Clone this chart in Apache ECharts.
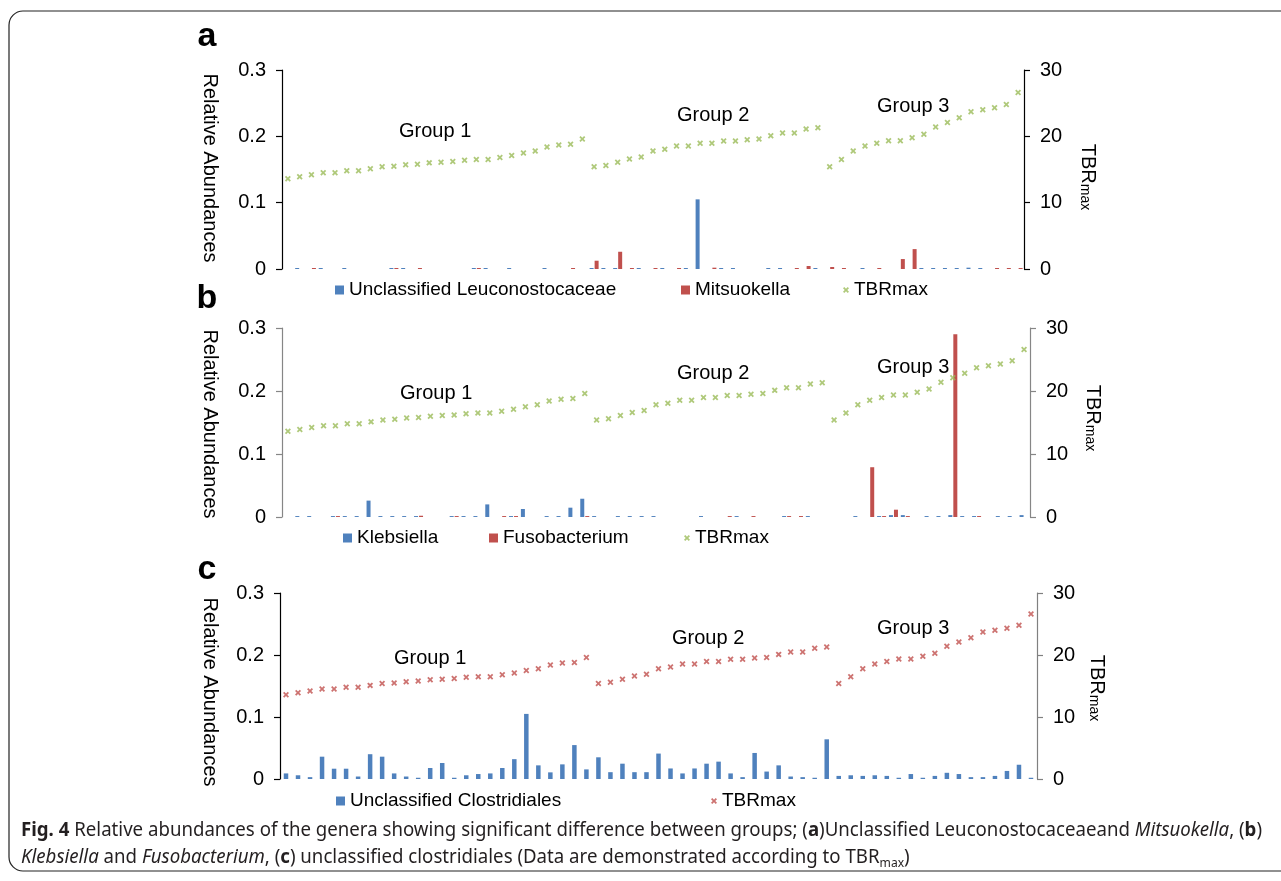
<!DOCTYPE html>
<html><head><meta charset="utf-8">
<script src="https://cdn.jsdelivr.net/npm/echarts@6/dist/echarts.min.js"></script>
<style>html,body{margin:0;padding:0;background:#fff;overflow:hidden}#chart{width:1281px;height:881px}</style>
</head><body><div id="chart"></div>
<script>
// ---------------- data ----------------
const groupNames = ['Group 1', 'Group 2', 'Group 3'];
const groupSizes = [26, 20, 17];

const tbrMax = [
  13.6, 13.9, 14.2, 14.5, 14.5, 14.8, 14.8, 15.1, 15.4, 15.5, 15.7, 15.8, 16.0, 16.1, 16.2, 16.4, 16.5, 16.5, 16.8, 17.1, 17.5, 17.8, 18.4, 18.7, 18.8, 19.6,
  15.4, 15.6, 16.1, 16.6, 16.9, 17.8, 18.05, 18.55, 18.55, 18.96, 18.96, 19.3, 19.3, 19.5, 19.6, 20.1, 20.5, 20.5, 21.1, 21.3,
  15.4, 16.5, 17.8, 18.55, 18.96, 19.35, 19.35, 19.8, 20.3, 21.4, 22.1, 22.8, 23.7, 24.0, 24.3, 24.8, 26.6
];

const leuconostocaceae = [
  0, 0.0015, 0, 0.0015, 0, 0.0015, 0, 0, 0, 0.0015,
  0.0015, 0, 0, 0, 0, 0, 0.0015, 0.0015, 0, 0.0015,
  0, 0, 0.0015, 0, 0, 0, 0.0015, 0.0015, 0.0015, 0,
  0.0015, 0, 0.0015, 0, 0.0015, 0.105, 0, 0.0015, 0.0015, 0,
  0, 0.0015, 0.0015, 0, 0, 0.0015, 0, 0, 0, 0.0015,
  0, 0, 0, 0, 0.0015, 0.0015, 0.0015, 0.0015, 0.002, 0.0015,
  0, 0, 0
];
const mitsuokella = [
  0, 0, 0.0015, 0, 0, 0, 0, 0, 0, 0.0015,
  0, 0.0015, 0, 0, 0, 0, 0.0015, 0, 0, 0,
  0, 0, 0, 0, 0.0015, 0, 0.0125, 0, 0.026, 0.0015,
  0, 0.0015, 0, 0.0015, 0, 0, 0.002, 0, 0, 0,
  0, 0, 0, 0.0015, 0.0045, 0, 0.003, 0.0015, 0, 0,
  0.0015, 0, 0.015, 0.030, 0, 0, 0, 0, 0, 0,
  0.0015, 0.0015, 0.0015
];
const klebsiella = [
  0, 0.0015, 0.0015, 0, 0.0015, 0.0015, 0.0015, 0.026, 0.0015, 0.0015,
  0.0015, 0.0015, 0, 0, 0.0015, 0.0015, 0.0015, 0.020, 0, 0.0015,
  0.0127, 0, 0.0015, 0.0015, 0.0148, 0.029, 0.0015, 0, 0.0015, 0.0015,
  0.0015, 0.0015, 0, 0, 0, 0.0015, 0, 0, 0.0015, 0,
  0, 0, 0.0015, 0, 0.0015, 0, 0, 0, 0.0015, 0,
  0.0015, 0.003, 0.003, 0, 0.0015, 0.0015, 0.003, 0.0015, 0.0015, 0,
  0.0015, 0.0015, 0.003
];
const fusobacterium = [
  0, 0, 0, 0, 0.0015, 0, 0, 0, 0, 0,
  0, 0.002, 0, 0, 0.0015, 0, 0, 0, 0.0015, 0.0015,
  0, 0, 0, 0, 0, 0.0015, 0, 0, 0, 0,
  0, 0, 0, 0, 0, 0, 0, 0.0015, 0, 0.0015,
  0, 0, 0.0015, 0.0015, 0, 0, 0, 0, 0, 0.079,
  0.0015, 0.0116, 0.0015, 0, 0, 0, 0.290, 0, 0.0015, 0,
  0, 0, 0
];
const clostridiales = [
  0.009, 0.006, 0.003, 0.036, 0.0166, 0.0166, 0.004, 0.040, 0.036, 0.009,
  0.004, 0.002, 0.0177, 0.0258, 0.002, 0.006, 0.008, 0.009, 0.0177, 0.032,
  0.105, 0.022, 0.0107, 0.0236, 0.0547, 0.0155, 0.035, 0.011, 0.0247, 0.011,
  0.011, 0.041, 0.017, 0.009, 0.017, 0.0247, 0.028, 0.009, 0.003, 0.042,
  0.012, 0.022, 0.004, 0.003, 0.002, 0.064, 0.005, 0.006, 0.005, 0.006,
  0.005, 0.002, 0.008, 0.002, 0.005, 0.010, 0.008, 0.003, 0.003, 0.005,
  0.013, 0.023, 0.002
];

const abundanceAxis = {min: 0, max: 0.3, interval: 0.1};
const tbrAxis = {min: 0, max: 30, interval: 10};

// ---------------- build ----------------
const categories = [];
groupSizes.forEach((n, g) => { for (let k = 1; k <= n; k++) categories.push(groupNames[g] + ' #' + k); });

const FONT = '"Liberation Sans", Arial, Helvetica, sans-serif';
const BLUE = '#4F81BD', RED = '#C0504D', GREEN = '#9BBB59';
const XMARK = 'path://M0,2.1L2.1,0L5,2.9L7.9,0L10,2.1L7.1,5L10,7.9L7.9,10L5,7.1L2.1,10L0,7.9L2.9,5Z';

const grids = [
  {left: 282, top: 70, width: 742, height: 199},
  {left: 282, top: 328, width: 748, height: 189},
  {left: 280, top: 593, width: 757, height: 186}
];
const axisColors = [['#000', '#000'], ['#868686', '#868686'], ['#000', '#808080']];

const xAxis = grids.map((g, i) => ({
  gridIndex: i, type: 'category', data: categories, show: false, boundaryGap: true
}));
const yAxis = [];
grids.forEach((g, i) => {
  [abundanceAxis, tbrAxis].forEach((ax, j) => {
    const c = axisColors[i][j];
    yAxis.push({
      gridIndex: i, type: 'value', position: j === 0 ? 'left' : 'right',
      min: ax.min, max: ax.max, interval: ax.interval,
      axisLine: {show: true, lineStyle: {color: c, width: 1.2}},
      axisTick: {show: true, length: 6, lineStyle: {color: c, width: 1.2}},
      axisLabel: {margin: 16, fontSize: 20, color: '#000', fontFamily: FONT},
      splitLine: {show: false}
    });
  });
});

function barSeries(name, data, color, p, width) {
  return {name, type: 'bar', xAxisIndex: p, yAxisIndex: p * 2, data,
    barWidth: width, barGap: '25%', itemStyle: {color}, emphasis: {disabled: true}};
}
function tbrSeries(name, color, p) {
  return {name, type: 'scatter', xAxisIndex: p, yAxisIndex: p * 2 + 1, data: tbrMax,
    symbol: XMARK, symbolSize: 6, itemStyle: {color}, z: 3, emphasis: {disabled: true}};
}
const series = [
  barSeries('Unclassified Leuconostocaceae', leuconostocaceae, BLUE, 0, 4),
  barSeries('Mitsuokella', mitsuokella, RED, 0, 4),
  tbrSeries('TBRmax_a', GREEN, 0),
  barSeries('Klebsiella', klebsiella, BLUE, 1, 4),
  barSeries('Fusobacterium', fusobacterium, RED, 1, 4),
  tbrSeries('TBRmax_b', GREEN, 1),
  barSeries('Unclassified Clostridiales', clostridiales, BLUE, 2, 4.5),
  tbrSeries('TBRmax_c', RED, 2)
];

function legendItem(name, left, cy, isMark) {
  return {
    data: [name], left, top: cy - 10, padding: 0, selectedMode: false,
    icon: isMark ? XMARK : 'rect', itemWidth: isMark ? 6 : 9, itemHeight: isMark ? 6 : 9,
    formatter: n => n.replace(/_.*$/, ''),
    textStyle: {fontSize: 19, lineHeight: 20, color: '#000', fontFamily: FONT}
  };
}
const legend = [
  legendItem('Unclassified Leuconostocaceae', 335, 290),
  legendItem('Mitsuokella', 681, 290),
  legendItem('TBRmax_a', 843, 290, true),
  legendItem('Klebsiella', 343, 538),
  legendItem('Fusobacterium', 489, 538),
  legendItem('TBRmax_b', 684, 538, true),
  legendItem('Unclassified Clostridiales', 336, 801),
  legendItem('TBRmax_c', 711, 801, true)
];

function txt(text, x, y, opts) {
  opts = opts || {};
  return {type: 'text', x, y, rotation: opts.rotation || 0, z: 10,
    style: Object.assign({text, x: 0, y: 0, fill: '#000', fontFamily: FONT, fontSize: opts.fontSize || 20,
      fontWeight: opts.fontWeight || 'normal',
      align: opts.align || 'center', textAlign: opts.align || 'center',
      verticalAlign: 'middle', textVerticalAlign: 'middle'}, opts.style || {})};
}
const graphic = [
  {type: 'rect', z: 0, shape: {x: 9, y: 11, width: 1320, height: 860, r: 14},
   style: {fill: 'none', stroke: '#222', lineWidth: 1.2}},
  txt('a', 207, 37, {fontSize: 34, fontWeight: 'bold'}),
  txt('b', 207, 299, {fontSize: 34, fontWeight: 'bold'}),
  txt('c', 207, 570, {fontSize: 34, fontWeight: 'bold'})
];
[[210, 168], [210, 424], [210, 692]].forEach(([x, y]) =>
  graphic.push(txt('Relative Abundances', x, y, {rotation: -Math.PI / 2})));
[[1088, 177], [1093, 418], [1097, 688]].forEach(([x, y]) =>
  graphic.push(txt('{m|TBR}{s|max}', x, y, {rotation: -Math.PI / 2, style: {rich: {
    m: {fontFamily: FONT, fontSize: 20, lineHeight: 20, verticalAlign: 'middle'},
    s: {fontFamily: FONT, fontSize: 14, lineHeight: 14, verticalAlign: 'bottom'}
  }}})));
const groupLabelPos = [
  [[399, 131], [677, 115], [877, 106]],
  [[400, 393], [677, 373], [877, 367]],
  [[394, 658], [672, 638], [877, 628]]
];
groupLabelPos.forEach(panel => panel.forEach(([x, y], g) =>
  graphic.push(txt(groupNames[g], x, y, {align: 'left'}))));

// caption
const CAP_FONT = '"Noto Sans", "Open Sans", sans-serif';
const CAP_SIZE = 20;
const capRich = {
  r: {fontFamily: CAP_FONT, fontSize: CAP_SIZE, lineHeight: 26, fill: '#231f20', color: '#231f20'},
  b: {fontFamily: CAP_FONT, fontSize: CAP_SIZE, lineHeight: 26, fontWeight: 'bold', fill: '#231f20', color: '#231f20'},
  i: {fontFamily: CAP_FONT, fontSize: CAP_SIZE, lineHeight: 26, fontStyle: 'italic', fill: '#231f20', color: '#231f20'},
  s: {fontFamily: CAP_FONT, fontSize: 13, lineHeight: 17, verticalAlign: 'bottom', fill: '#231f20', color: '#231f20'}
};
const line1 = [['b', 'Fig. 4'], ['r', ' Relative abundances of the genera showing significant difference between groups; ('], ['b', 'a'],
  ['r', ')Unclassified Leuconostocaceaeand '], ['i', 'Mitsuokella'], ['r', ', ('], ['b', 'b'], ['r', ')']];
const line2 = [['i', 'Klebsiella'], ['r', ' and '], ['i', 'Fusobacterium'], ['r', ', ('], ['b', 'c'],
  ['r', ') unclassified clostridiales (Data are demonstrated according to TBR'], ['s', 'max'], ['r', ')']];
const ctx = document.createElement('canvas').getContext('2d');
function measure(tokens) {
  let w = 0;
  tokens.forEach(([k, t]) => {
    const st = capRich[k];
    ctx.font = (st.fontStyle || 'normal') + ' ' + (st.fontWeight || 'normal') + ' ' + st.fontSize + 'px ' + st.fontFamily;
    w += ctx.measureText(t).width;
  });
  return w;
}
const capScale = 1241 / measure(line1);
const toRich = tokens => tokens.map(([k, t]) => '{' + k + '|' + t + '}').join('');
[[line1, 830], [line2, 857]].forEach(([tokens, y]) => {
  graphic.push({type: 'text', x: 21, y, scaleX: capScale, z: 10,
    style: {text: toRich(tokens), x: 0, y: 0, align: 'left', textAlign: 'left', verticalAlign: 'middle',
      textVerticalAlign: 'middle', rich: capRich}});
});

const chart = echarts.init(document.getElementById('chart'), null, {renderer: 'canvas'});
chart.setOption({
  backgroundColor: '#fff',
  animation: false,
  grid: grids,
  xAxis, yAxis, series, legend, graphic
});
</script></body></html>
